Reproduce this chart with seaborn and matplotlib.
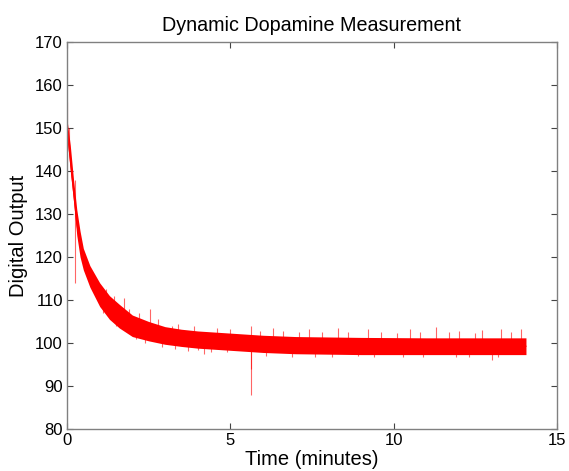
import numpy as np
import pandas as pd
import matplotlib
matplotlib.use("Agg")
import matplotlib.pyplot as plt
import seaborn as sns

# Envelope of the noisy signal (minutes, digital output)
times = [0.0, 0.1, 0.2, 0.3, 0.4, 0.5, 0.7, 1.0, 1.3, 1.6, 2.0, 2.5, 3.0,
         3.5, 4.0, 5.0, 6.0, 7.0, 9.0, 11.0, 14.05]
upper = [152, 146, 138, 131, 126, 122, 118, 114, 111, 109, 106.5, 105, 103.8,
         103.2, 102.8, 102.3, 101.8, 101.5, 101.3, 101.2, 101.2]
lower = [148, 140, 133, 125, 120, 117, 113, 108.5, 105.5, 103.5, 101.5, 100.5,
         99.7, 99.2, 98.8, 98.3, 97.8, 97.5, 97.3, 97.3, 97.3]

# Isolated spikes (time, low, high)
spike_t = [0.0, 0.25, 0.05, 2.53, 1.75, 3.2, 5.63, 5.63, 6.3, 7.4, 8.3, 9.2,
           10.5, 11.3, 12.0, 12.7, 13.3, 13.9, 4.2, 3.7, 6.9, 8.9, 10.9, 12.3, 13.0,
           1.2, 1.45, 1.9, 2.2, 2.8, 3.4, 3.9, 4.6, 5.0, 5.9, 6.6, 7.1, 7.8, 8.6,
           9.6, 10.1, 10.8, 11.7, 12.5, 13.6,
           1.1, 1.5, 2.1, 2.4, 2.9, 3.3, 4.0, 4.4, 4.9, 6.1, 7.6, 8.1, 9.4, 10.3, 11.9, 13.2]
spike_lo = [150, 114, 145, 104, 107, 100, 88, 94, 100, 100, 100, 100,
            100, 100, 100, 100, 100, 100, 97.5, 98.2, 96.8, 96.9, 96.8, 96.7, 96.0,
            110, 108, 105, 104, 103, 102, 102, 101.5, 101.5, 101, 101, 101, 100.5, 100.5,
            100.5, 100.5, 100.5, 100.5, 100.5, 100.5,
            107, 104, 101, 100, 99, 98.6, 98.3, 98, 97.8, 97, 96.8, 96.8, 96.7, 96.8, 96.8, 96.8]
spike_hi = [156, 138, 150, 108, 110.5, 104, 100, 104, 103.4, 103.3, 103.5, 103.2,
            103.3, 103.7, 102.8, 103.0, 103.3, 103.2, 100, 100, 99, 99, 99, 99, 99,
            112.5, 111, 108, 107, 105.5, 104.5, 104, 103.5, 103.2, 102.8, 102.8, 102.6, 102.5, 102.6,
            102.5, 102.4, 102.6, 102.5, 102.4, 102.5,
            110, 107, 103, 102, 101, 100, 100, 100, 99.5, 99, 99, 99, 99, 99, 99, 99]

xticks = [0, 5, 10, 15]
yticks = [80, 90, 100, 110, 120, 130, 140, 150, 160, 170]

df = pd.DataFrame({
    "t": times + times,
    "v": upper + lower,
})

sns.set_theme(style="white")
plt.rcParams["font.family"] = ["Liberation Sans", "DejaVu Sans"]

fig = plt.figure(figsize=(5.69, 4.71), dpi=100)
ax = fig.add_axes([67 / 569, 1 - 429 / 471, 490 / 569, 387 / 471])

sns.lineplot(data=df, x="t", y="v", estimator="mean", errorbar=("pi", 100),
             color="#ff0000", linewidth=1.0, err_kws={"alpha": 1.0, "linewidth": 0},
             ax=ax)
ax.vlines(spike_t, spike_lo, spike_hi, color="#ff0000", linewidth=0.8, alpha=0.6)

ax.set_xlim(0, 15)
ax.set_ylim(80, 170)
ax.set_xticks(xticks)
ax.set_yticks(yticks)
ax.tick_params(direction="in", length=4, width=0.8, colors="#444444",
               labelcolor="black", labelsize=12, top=True, right=True,
               bottom=True, left=True, pad=3)
for s in ax.spines.values():
    s.set_color("#808080")
    s.set_linewidth(1.0)

ax.set_title("Dynamic Dopamine Measurement", fontsize=14.2, pad=8, color="black")
ax.set_xlabel("Time (minutes)", fontsize=14.5, labelpad=1, color="black")
ax.set_ylabel("Digital Output", fontsize=14.5, labelpad=5, color="black")

fig.savefig("out.png", dpi=100, facecolor="white")
